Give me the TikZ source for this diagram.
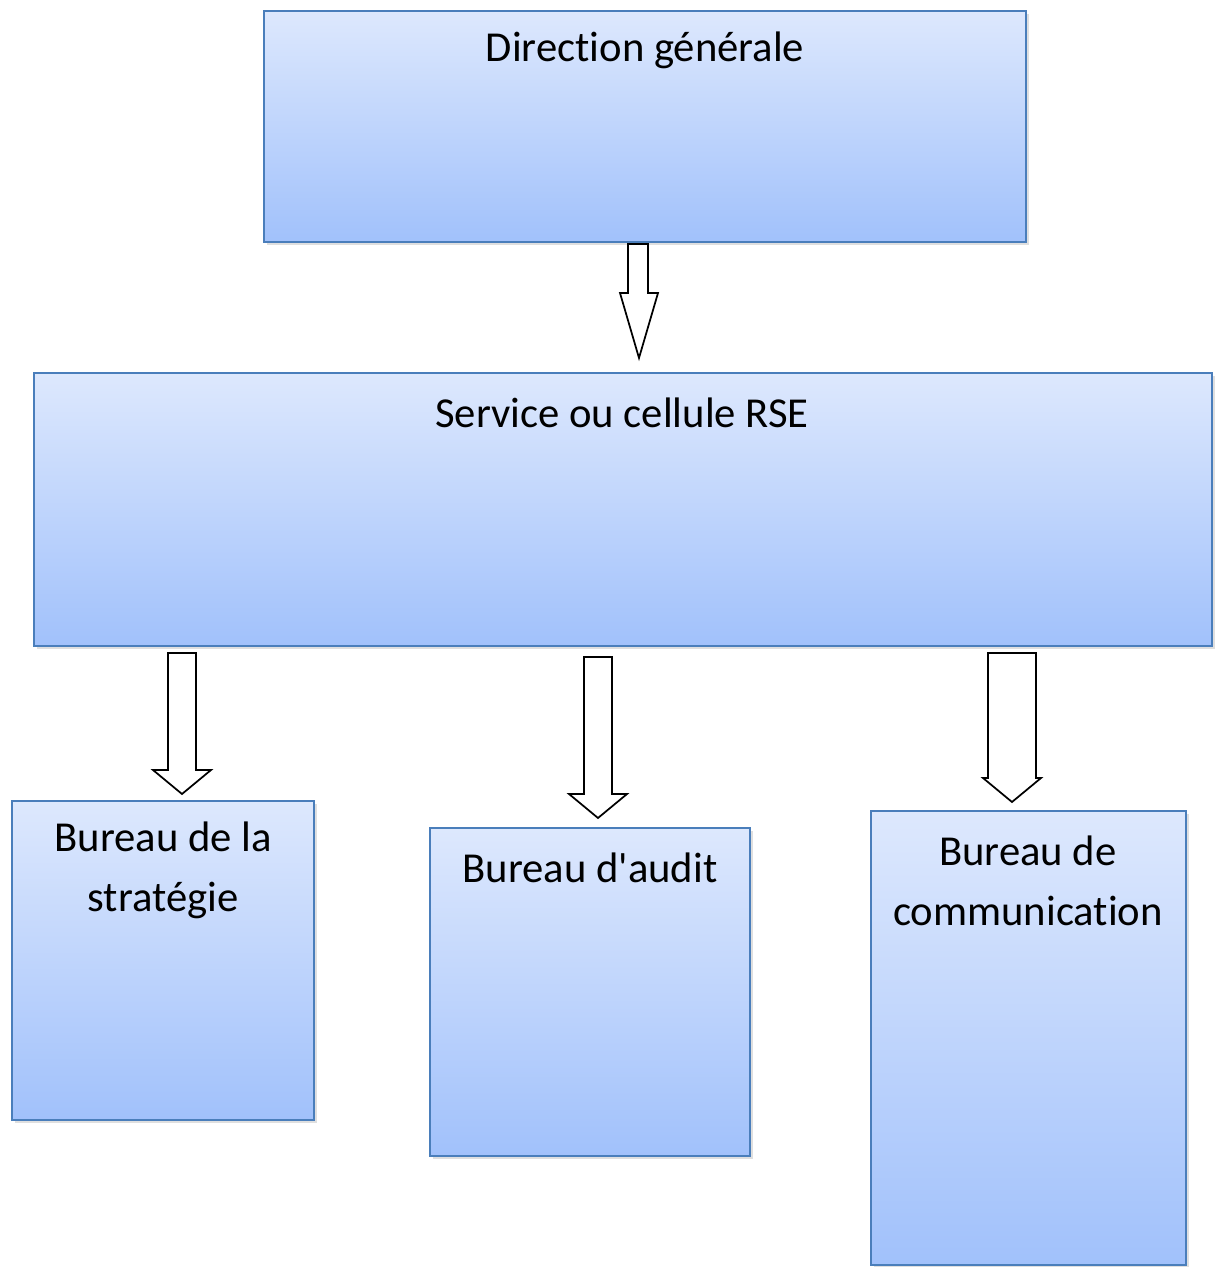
\documentclass[tikz,border=0pt]{standalone}
\usepackage{fontspec}
\setmainfont[RawFeature=-liga]{Carlito}
\usetikzlibrary{shadows}
\definecolor{boxtop}{HTML}{DDE8FD}
\definecolor{boxbot}{HTML}{A1C1FB}
\definecolor{boxline}{HTML}{4A7EBB}
\tikzset{
  orgbox/.style={draw=boxline, line width=1.4pt, top color=boxtop, bottom color=boxbot,
    drop shadow={opacity=0.25, shadow xshift=2pt, shadow yshift=-2pt}},
  blockarrow/.style={draw=black, fill=white, line width=1.3pt, line join=miter},
  lbl/.style={font=\fontsize{32}{45}\selectfont, align=center, inner sep=0pt}
}
\begin{document}
\begin{tikzpicture}[x=0.75pt, y=-0.75pt]
\useasboundingbox (0,0) rectangle (1216,1267);
% boxes
\path[orgbox] (264,11) rectangle (1026,242);
\path[orgbox] (34,373) rectangle (1212,646);
\path[orgbox] (12,801) rectangle (314,1120);
\path[orgbox] (430,828) rectangle (750,1156);
\path[orgbox] (871,811) rectangle (1186,1265);
% labels
\node[lbl] (tdg) at (645,50) {Direction générale};
\node[lbl] (trse) at (622,413) {Service ou cellule RSE};
\node[lbl] (tstr) at (163,870) {Bureau de la\\stratégie};
\node[lbl] (taud) at (590,868) {Bureau d\textquotesingle audit};
\node[lbl] (tcom) at (1028,881) {Bureau de\\communication};
% block arrows
\draw[blockarrow] (628,244) -- (648,244) -- (648,293) -- (658,293) -- (639,358) -- (620,293) -- (628,293) -- cycle;
\draw[blockarrow] (168,653) -- (196,653) -- (196,770) -- (211,770) -- (182,794) -- (153,770) -- (168,770) -- cycle;
\draw[blockarrow] (584,657) -- (612,657) -- (612,794) -- (627,794) -- (598,818) -- (569,794) -- (584,794) -- cycle;
\draw[blockarrow] (988,653) -- (1036,653) -- (1036,778) -- (1041,778) -- (1012,802) -- (983,778) -- (988,778) -- cycle;
\end{tikzpicture}
\end{document}
